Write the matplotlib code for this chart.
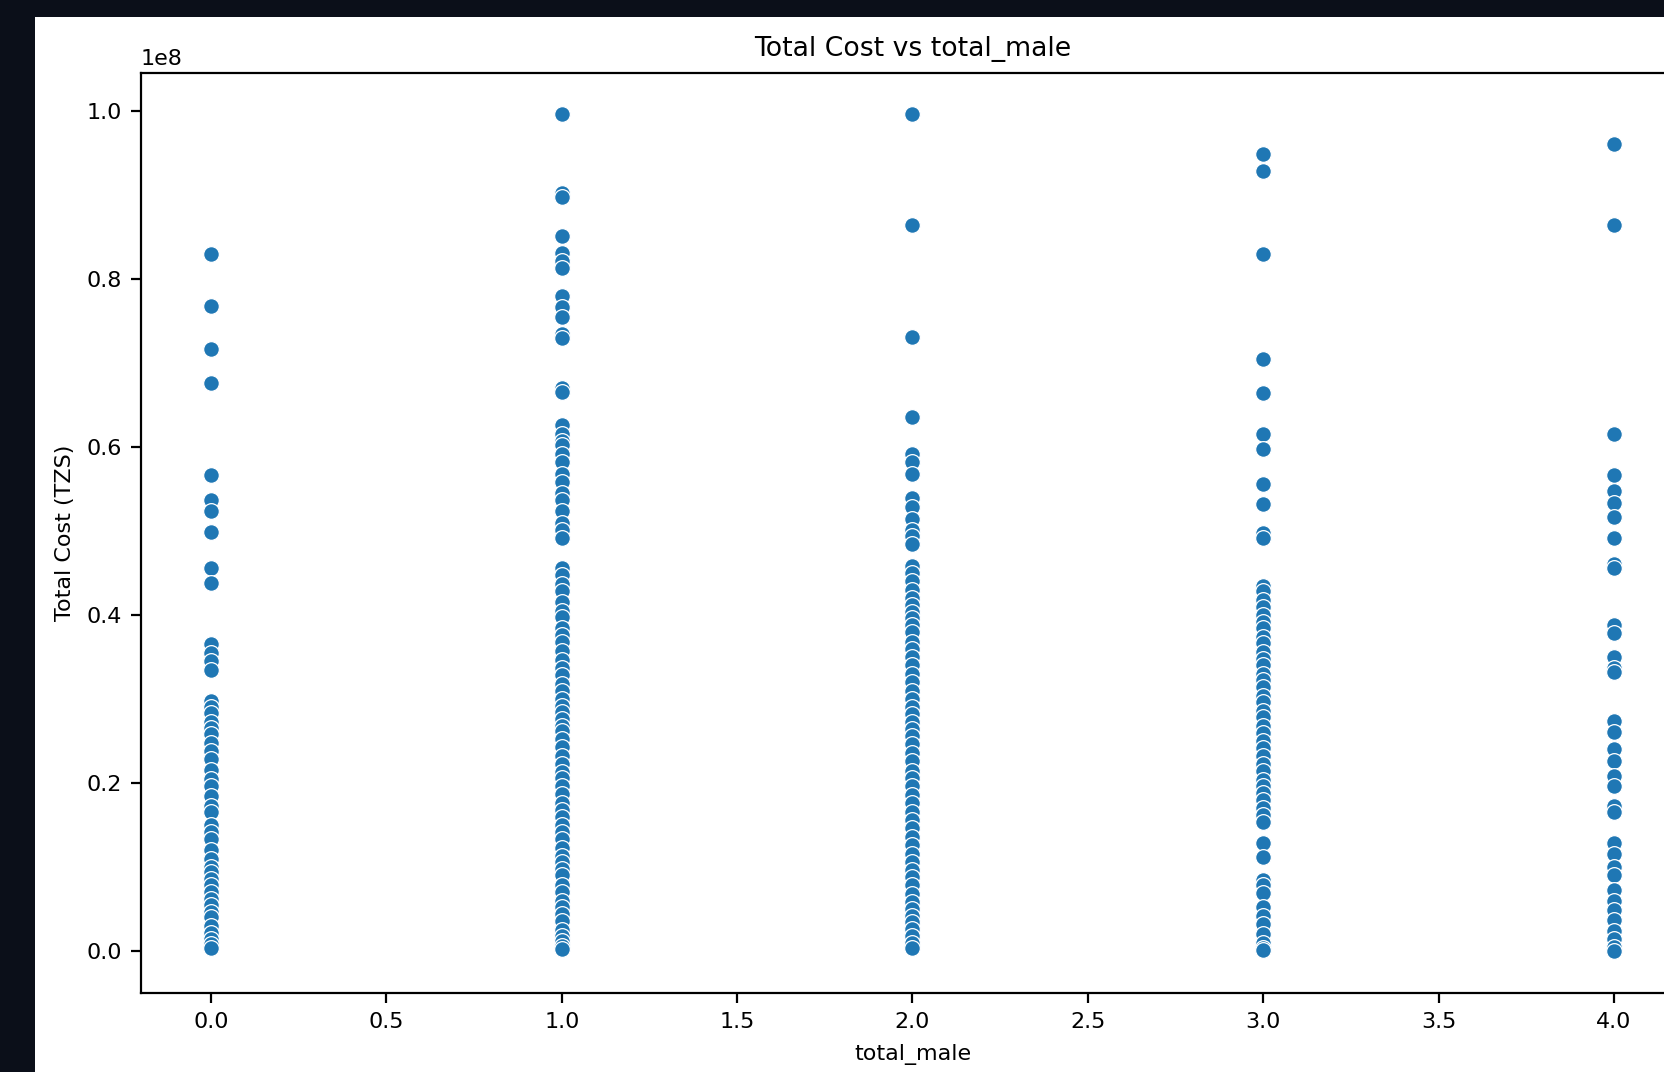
# -*- coding: utf-8 -*-
# nuage de points : coût total en fonction du nombre d'hommes du ménage

import matplotlib
matplotlib.use("Agg")
import matplotlib.pyplot as plt
from matplotlib.patches import Rectangle
import pandas as pd
import seaborn as sns

# coûts relevés (en 1e8 TZS) pour chaque valeur de total_male
cost_male0 = [0.830, 0.768, 0.716, 0.676, 0.567, 0.537, 0.524, 0.499, 0.456, 0.438,
              0.365, 0.355, 0.345, 0.335,
              0.297, 0.290, 0.283, 0.272, 0.265, 0.258, 0.248, 0.238, 0.228, 0.215,
              0.205, 0.196, 0.184, 0.172, 0.165, 0.150, 0.142, 0.133, 0.120, 0.110,
              0.100, 0.094, 0.086, 0.078, 0.070, 0.062, 0.055, 0.046, 0.040, 0.030,
              0.022, 0.014, 0.008, 0.003]
cost_male1 = [0.996, 0.902, 0.897, 0.851, 0.831, 0.821, 0.813, 0.779, 0.766, 0.754,
              0.734, 0.729, 0.670, 0.665, 0.626, 0.615, 0.607, 0.602, 0.592, 0.582,
              0.568, 0.558, 0.545, 0.537, 0.524, 0.509, 0.501, 0.492,
              0.456, 0.448, 0.437, 0.428, 0.415, 0.405, 0.397, 0.385, 0.376, 0.368,
              0.357, 0.346, 0.337, 0.328, 0.318, 0.310, 0.300, 0.292, 0.285, 0.276,
              0.268, 0.262, 0.252, 0.243, 0.232, 0.222, 0.213, 0.206, 0.196, 0.187,
              0.176, 0.168, 0.160, 0.150, 0.142, 0.133, 0.122, 0.113, 0.106, 0.098,
              0.090, 0.078, 0.070, 0.060, 0.052, 0.044, 0.036, 0.025, 0.018, 0.012,
              0.006, 0.002]
cost_male2 = [0.996, 0.864, 0.731, 0.636, 0.592, 0.582, 0.568, 0.539, 0.529, 0.514,
              0.501, 0.494, 0.484,
              0.458, 0.450, 0.440, 0.430, 0.420, 0.412, 0.404, 0.396, 0.388, 0.380,
              0.368, 0.360, 0.350, 0.340, 0.330, 0.320, 0.310, 0.300, 0.290, 0.282,
              0.272, 0.264, 0.256, 0.246, 0.236, 0.226, 0.214, 0.206, 0.196, 0.186,
              0.176, 0.166, 0.156, 0.146, 0.136, 0.126, 0.116, 0.106, 0.096, 0.088,
              0.078, 0.068, 0.058, 0.050, 0.042, 0.034, 0.026, 0.018, 0.010, 0.004]
cost_male3 = [0.948, 0.928, 0.830, 0.705, 0.664, 0.615, 0.598, 0.556, 0.532, 0.497,
              0.491,
              0.434, 0.428, 0.418, 0.410, 0.400, 0.392, 0.384, 0.374, 0.366, 0.356,
              0.348, 0.340, 0.330, 0.322, 0.314, 0.304, 0.296, 0.286, 0.278, 0.268,
              0.260, 0.250, 0.242, 0.232, 0.222, 0.214, 0.204, 0.196, 0.188, 0.180,
              0.170, 0.162, 0.153, 0.128, 0.112, 0.085, 0.078, 0.069, 0.052, 0.042,
              0.032, 0.020, 0.010, 0.004, 0.001]
cost_male4 = [0.961, 0.864, 0.615, 0.567, 0.547, 0.533, 0.516, 0.491, 0.461, 0.456,
              0.388, 0.379, 0.350, 0.337, 0.332, 0.274, 0.261, 0.241, 0.226, 0.208,
              0.196, 0.173, 0.165, 0.128, 0.115, 0.100, 0.090, 0.072, 0.059, 0.049,
              0.037, 0.024, 0.014, 0.005, 0.000]

groups = [(0, cost_male0), (1, cost_male1), (2, cost_male2), (3, cost_male3), (4, cost_male4)]

# construction du tableau pour seaborn
rows = [(g, c * 1e8) for g, costs in groups for c in costs]
df = pd.DataFrame(rows, columns=["total_male", "Total Cost (TZS)"])

plt.rcParams["font.size"] = 8
plt.rcParams["axes.titlesize"] = 9.6

W, H = 1665, 1072
fig = plt.figure(figsize=(W / 200, H / 200), dpi=200, facecolor="#0b0f19")
# zone blanche de la figure
fig.add_artist(Rectangle((35 / W, 0), 1 - 35 / W, 1 - 17 / H,
                         transform=fig.transFigure, facecolor="white",
                         edgecolor="none", zorder=0))

ax = fig.add_axes([141 / W, (H - 993) / H, 1543 / W, (993 - 73) / H])
sns.scatterplot(data=df, x="total_male", y="Total Cost (TZS)", ax=ax, s=32)
ax.set_xlim(-0.2, 4.2)
ax.set_ylim(-0.05e8, 1.045e8)
ax.set_title("Total Cost vs total_male")

fig.savefig("out.png", dpi=200, facecolor=fig.get_facecolor())
